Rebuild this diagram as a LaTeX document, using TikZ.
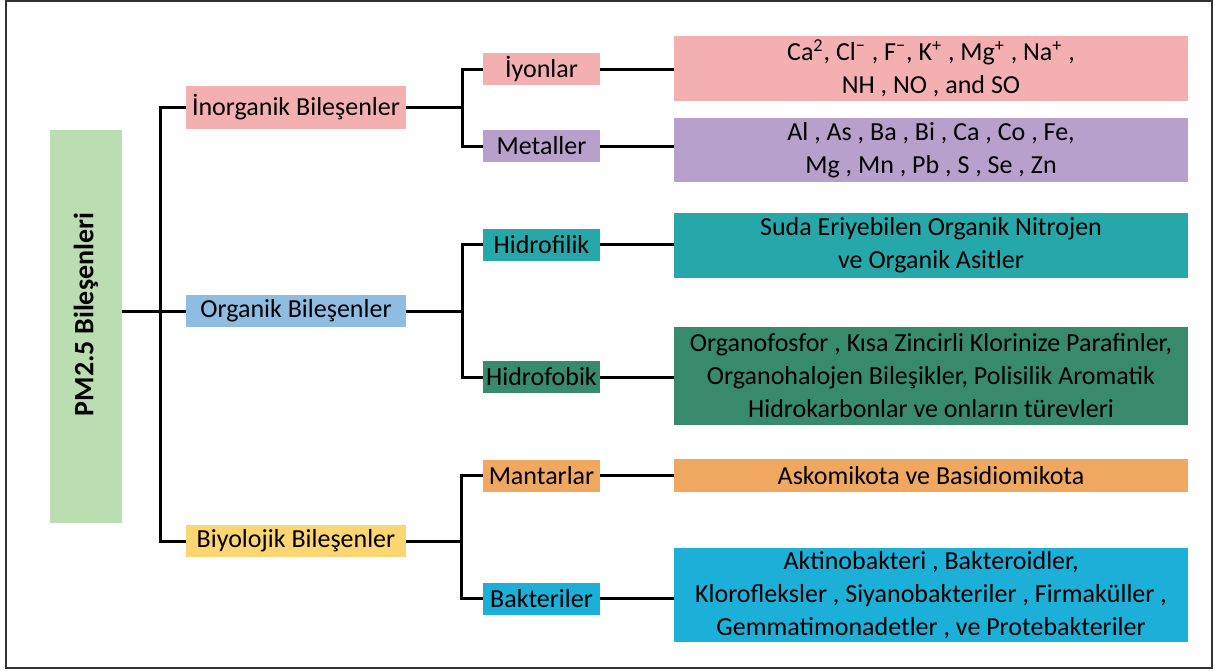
\documentclass[tikz,border=0pt]{standalone}
\usepackage{fontspec}
\setmainfont{Carlito}
\usepackage{xcolor}
\usetikzlibrary{positioning, calc}

\definecolor{rootgreen}{RGB}{186,221,178}
\definecolor{inopink}{RGB}{244,176,176}
\definecolor{metpurple}{RGB}{184,160,204}
\definecolor{orgblue}{RGB}{143,188,225}
\definecolor{hfilteal}{RGB}{38,168,170}
\definecolor{hfobgreen}{RGB}{56,138,108}
\definecolor{bioyellow}{RGB}{253,214,115}
\definecolor{funorange}{RGB}{240,168,96}
\definecolor{baccyan}{RGB}{28,176,216}

\begin{document}
\begin{tikzpicture}[
    x=0.5pt, y=-0.5pt,
    every node/.style={font=\fontsize{13}{16.5}\selectfont, inner sep=0pt, text=black},
    rootbox/.style={rectangle, minimum width=36pt, minimum height=196.5pt, fill=rootgreen, font=\fontsize{14}{16}\selectfont\bfseries},
    catbox/.style={rectangle, minimum width=110pt, minimum height=16pt},
    subbox/.style={rectangle, minimum width=58.5pt, minimum height=16pt},
    detailbox/.style={rectangle, minimum width=257pt, align=center},
    link/.style={line width=1.5pt, black},
    frame/.style={line width=1pt, black!80}
]
\useasboundingbox (0,0) rectangle (1215,670);
\draw[frame] (6,1) rectangle (1212,668);

% root
\node[rootbox] (pm) at (86,326.5) {\rotatebox{90}{\hspace{12pt}PM2.5 Bileşenleri}};

% first level
\node[catbox, fill=inopink, minimum height=21.5pt] (inorg) at (296,107.5) {İnorganik Bileşenler};
\node[catbox, fill=orgblue] (org) at (296,311) {Organik Bileşenler};
\node[catbox, fill=bioyellow] (bio) at (296,541) {Biyolojik Bileşenler};

% second level
\node[subbox, fill=inopink] (iyon) at (541.5,69) {İyonlar};
\node[subbox, fill=metpurple] (metal) at (541.5,146) {Metaller};
\node[subbox, fill=hfilteal] (hfil) at (541.5,244.5) {Hidrofilik};
\node[subbox, fill=hfobgreen] (hfob) at (541.5,377) {Hidrofobik};
\node[subbox, fill=funorange] (mantar) at (541.5,475.5) {Mantarlar};
\node[subbox, fill=baccyan] (bakteri) at (541.5,598.5) {Bakteriler};

% details
\node[detailbox, fill=inopink, minimum height=32.5pt] (iyonT) at (931,68.5)
  {Ca\textsuperscript{2}, Cl\textsuperscript{−} , F\textsuperscript{−}, K\textsuperscript{+} , Mg\textsuperscript{+} , Na\textsuperscript{+} ,\\ NH , NO , and SO};
\node[detailbox, fill=metpurple, minimum height=32pt] (metalT) at (931,150)
  {Al , As , Ba , Bi , Ca , Co , Fe,\\ Mg , Mn , Pb , S , Se , Zn};
\node[detailbox, fill=hfilteal, minimum height=32.5pt] (hfilT) at (931,245.5)
  {Suda Eriyebilen Organik Nitrojen\\ ve Organik Asitler};
\node[detailbox, fill=hfobgreen, minimum height=49pt] (hfobT) at (931,376)
  {Organofosfor , Kısa Zincirli Klorinize Parafinler,\\ Organohalojen Bileşikler, Polisilik Aromatik\\ Hidrokarbonlar ve onların türevleri};
\node[detailbox, fill=funorange, minimum height=16.5pt] (mantarT) at (931,475.5)
  {Askomikota ve Basidiomikota};
\node[detailbox, fill=baccyan, minimum height=47pt] (bakteriT) at (931,595)
  {Aktinobakteri , Bakteroidler,\\ Klorofleksler , Siyanobakteriler , Firmaküller ,\\ Gemmatimonadetler , ve Protebakteriler};

% tree lines
\draw[link] (pm.east |- org.west) -- (org.west);
\draw[link] (inorg.west) -- ++(-25,0) |- (bio.west);

\draw[link] (inorg.east) -- ++(57,0);
\draw[link] (iyon.west) -- ++(-20,0) |- (metal.west);
\draw[link] (org.east) -- ++(57,0);
\draw[link] (hfil.west) -- ++(-20,0) |- (hfob.west);
\draw[link] (bio.east) -- ++(56,0);
\draw[link] (mantar.west) -- ++(-21,0) |- (bakteri.west);

\draw[link] (iyon.east) -- (iyon.east -| iyonT.west);
\draw[link] (metal.east) -- (metal.east -| metalT.west);
\draw[link] (hfil.east) -- (hfil.east -| hfilT.west);
\draw[link] (hfob.east) -- (hfob.east -| hfobT.west);
\draw[link] (mantar.east) -- (mantar.east -| mantarT.west);
\draw[link] (bakteri.east) -- (bakteri.east -| bakteriT.west);
\end{tikzpicture}
\end{document}
